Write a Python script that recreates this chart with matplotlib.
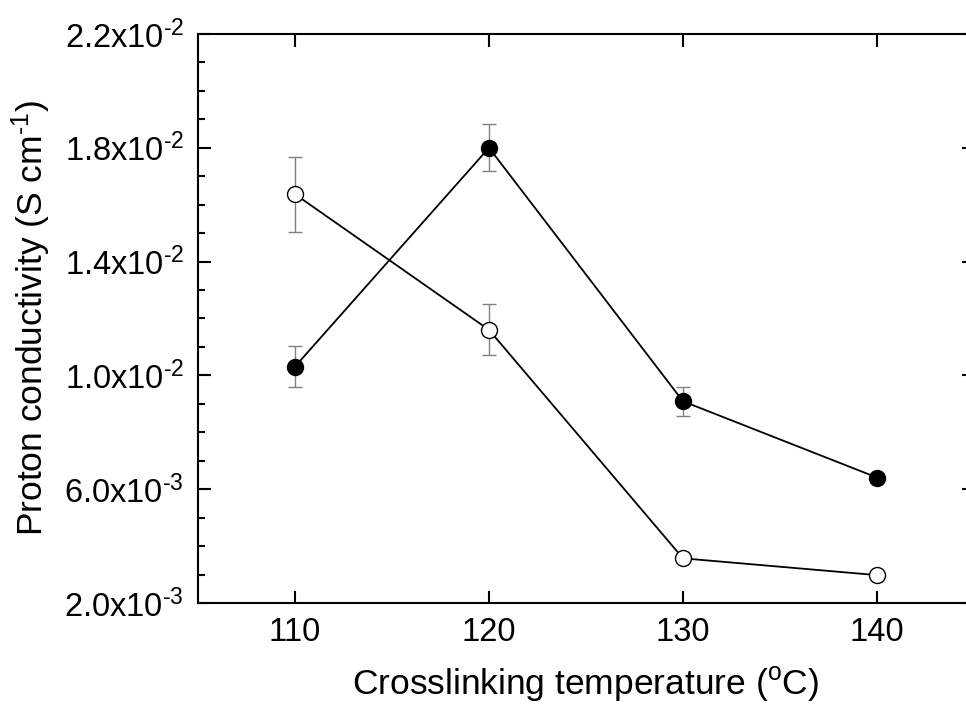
import matplotlib
matplotlib.use("Agg")
import matplotlib.pyplot as plt
from matplotlib.ticker import MultipleLocator, FixedLocator

plt.rcParams["font.family"] = ["Liberation Sans", "DejaVu Sans"]
plt.rcParams["mathtext.fontset"] = "custom"
plt.rcParams["mathtext.rm"] = "Liberation Sans"
plt.rcParams["mathtext.it"] = "Liberation Sans"
plt.rcParams["mathtext.default"] = "regular"

# dados
temperatura = [110, 120, 130, 140]
cond_cheio = [0.01031, 0.0180, 0.00909, 0.00641]
erro_cheio = [0.00072, 0.00083, 0.00050, 0.00010]
cond_vazio = [0.01637, 0.01160, 0.00357, 0.00298]
erro_vazio = [0.00132, 0.00090, 0.00010, 0.00008]

y_ticks = [0.002, 0.006, 0.010, 0.014, 0.018, 0.022]
y_labels = [r"2.0x10$^{\text{-3}}$", r"6.0x10$^{\text{-3}}$", r"1.0x10$^{\text{-2}}$",
            r"1.4x10$^{\text{-2}}$", r"1.8x10$^{\text{-2}}$", r"2.2x10$^{\text{-2}}$"]

fig = plt.figure(figsize=(9.66, 7.08), dpi=100)
# eixo direito fica fora da imagem (cortado no original)
ax = fig.add_axes([198 / 966, 1 - 603 / 708, 776 / 966, 569 / 708])

for ys, es, face in [(cond_vazio, erro_vazio, "white"), (cond_cheio, erro_cheio, "black")]:
    ax.errorbar(temperatura, ys, yerr=es, fmt="none", ecolor="#808080",
                elinewidth=1.0, capsize=5, capthick=1.0, zorder=2)
    ax.plot(temperatura, ys, color="black", lw=1.3, marker="o", ms=11.5,
            mfc=face, mec="black", mew=1.0, zorder=3)

ax.set_xlim(105, 145)
ax.set_ylim(0.002, 0.022)
ax.xaxis.set_major_locator(FixedLocator(temperatura))
ax.yaxis.set_major_locator(FixedLocator(y_ticks))
ax.yaxis.set_minor_locator(MultipleLocator(0.001))
ax.set_yticklabels(y_labels)

for s in ax.spines.values():
    s.set_linewidth(1.5)
ax.tick_params(which="both", direction="in", top=True, right=True, width=1.5)
ax.tick_params(which="major", length=9, labelsize=23.5, pad=10)
ax.tick_params(which="minor", length=5)
ax.tick_params(axis="x", pad=10)

ax.set_xlabel(r"Crosslinking temperature ($^{o}$C)", fontsize=25.5, labelpad=12)
ax.set_ylabel(r"Proton conductivity (S cm$^{\text{-1}}$)", fontsize=25.5, labelpad=8)

fig.savefig("out.png", dpi=100)
